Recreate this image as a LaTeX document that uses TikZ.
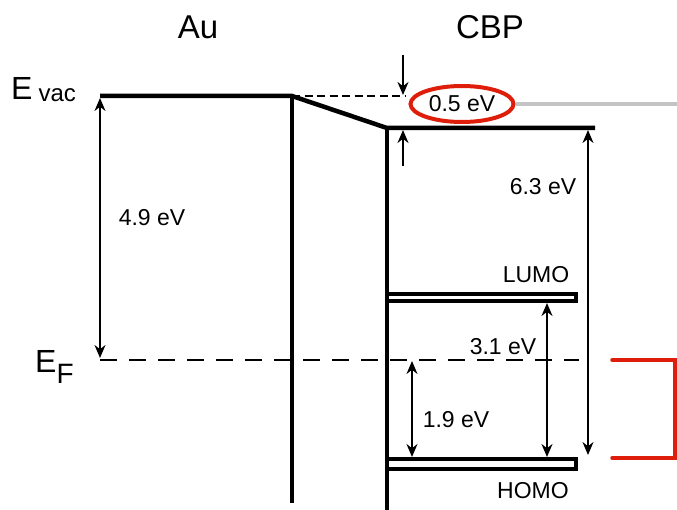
\documentclass[tikz,border=0pt]{standalone}
\usepackage{fontspec}
\setmainfont{Liberation Sans}
\usetikzlibrary{arrows.meta,shapes.geometric}
\definecolor{ringred}{RGB}{222,30,10}
\definecolor{levelgray}{RGB}{196,196,196}

\begin{document}
\begin{tikzpicture}[x=1pt,y=-1pt]
        % Setup the styles for levels, arrows and labels
        \tikzset{level style/.style={line width=4.5pt},
                 orbital style/.style={line width=4pt},
                 dash style/.style={line width=2pt, dash pattern=on 17pt off 12pt},
                 gap style/.style={line width=2pt,
                                   {Stealth[length=13pt,width=11pt]}-{Stealth[length=13pt,width=11pt]}},
                 tip style/.style={line width=2pt, -{Stealth[length=13pt,width=11pt]}},
                 label style/.style={inner sep=0pt, font=\fontsize{23}{23}\selectfont},
                 title style/.style={inner sep=0pt, font=\fontsize{33}{33}\selectfont}}
        \useasboundingbox (0,0) rectangle (677,510);

        % Points of the levels
        \coordinate (vacAuL)  at (100,96);
        \coordinate (vacAuR)  at (292,96);
        \coordinate (vacCbpL) at (387,128);
        \coordinate (vacCbpR) at (595,128);
        \coordinate (auBot)   at (292,503);
        \coordinate (cbpBot)  at (387,512);
        \coordinate (efL)     at (100,360);
        \coordinate (efR)     at (579,360);
        \coordinate (dashR)   at (405,96);

        % Draw the titles and level names
        \node[title style] at (198,27) (au)  {Au};
        \node[title style] at (490,27) (cbp) {CBP};
        \node[inner sep=0pt, anchor=base west] at (11,100) (evac)
            {\fontsize{32}{32}\selectfont E\hspace{6pt}\raisebox{-2pt}{\fontsize{24}{24}\selectfont vac}};
        \node[inner sep=0pt, anchor=base west] at (35,372) (ef)
            {\fontsize{32}{32}\selectfont E\raisebox{-11pt}{\fontsize{28}{28}\selectfont F}};

        % Draw the vacuum levels and the interface
        \draw[level style, line join=miter] (vacAuL) -- (vacAuR) -- (vacCbpL) -- (vacCbpR);
        \draw[level style] (vacAuR) -- (auBot);
        \draw[level style] (vacCbpL) -- (cbpBot);
        \draw[line width=2pt, dash pattern=on 8pt off 4.5pt] (vacAuR) -- (dashR);
        \draw[dash style] (efL) -- (efR);

        % Draw the orbitals
        \draw[orbital style] (387,294) rectangle (576,301);
        \draw[orbital style] (387,459) rectangle (576,469);
        \node[label style] at (536,275) (lumo) {LUMO};
        \node[label style] at (533,491) (homo) {HOMO};

        % Draw the shift at the interface
        \node[ellipse, draw=ringred, line width=4pt, minimum width=103pt,
              minimum height=36pt, inner sep=0pt, label style] at (462,104) (shift) {0.5 eV};
        \draw[levelgray, line width=4pt] (shift.east) -- (677,104);
        \coordinate (shiftTopA) at (403,55);
        \coordinate (shiftTopB) at (403,95);
        \coordinate (shiftBotA) at (403,166);
        \coordinate (shiftBotB) at (403,130);
        \draw[tip style] (shiftTopA) -- (shiftTopB);
        \draw[tip style] (shiftBotA) -- (shiftBotB);

        % Draw the energy gaps
        \draw[gap style] (100,98) -- (100,358);
        \node[label style] at (152,218) (wf) {4.9 eV};
        \draw[gap style] (588,130) -- (588,455);
        \node[label style] at (543,187) (ip) {6.3 eV};
        \draw[gap style] (547,303) -- (547,457);
        \node[label style] at (503,347) (eg) {3.1 eV};
        \draw[gap style] (412,361) -- (412,457);
        \node[label style] at (456,420) (hb) {1.9 eV};

        % Draw the bracket
        \draw[ringred, line width=3.5pt, line cap=round] (612,360) -- (675,360) -- (675,458) -- (612,458);
\end{tikzpicture}
\end{document}
